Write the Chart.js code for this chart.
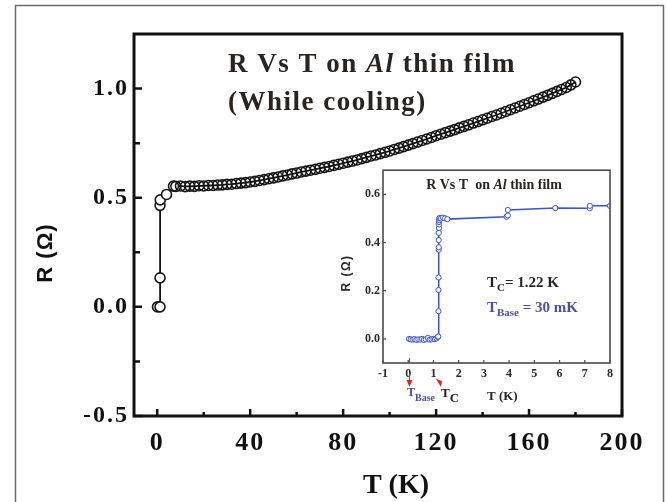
<!DOCTYPE html>
<html><head><meta charset="utf-8">
<script src="https://cdn.jsdelivr.net/npm/chart.js@4"></script>
<style>
html,body{margin:0;padding:0;background:#fff;}
#wrap{position:relative;width:667px;height:502px;overflow:hidden;}
#main{position:absolute;left:0;top:0;}
#inset{position:absolute;left:330px;top:160px;}
</style></head><body>
<div id="wrap"><canvas id="main" width="667" height="502"></canvas><canvas id="inset" width="290" height="250"></canvas></div>
<script>
// ---- main data (T in K, R in ohm) ----
const mainT = [0.1,1.2,1.2,1.2,1.3,4,7,8,10,12,14,16,18,20,22,24,26,28,30,32,34,36,38,40,42,44,46,48,50,52,54,56,58,60,62,64,66,68,70,72,74,76,78,80,82,84,86,88,90,92,94,96,98,100,102,104,106,108,110,112,114,116,118,120,122,124,126,128,130,132,134,136,138,140,142,144,146,148,150,152,154,156,158,160,162,164,166,168,170,172,174,176,178,180];
const mainR = [0,0,0.133,0.465,0.49,0.515,0.553,0.552,0.554,0.551,0.553,0.552,0.555,0.554,0.556,0.556,0.558,0.559,0.561,0.562,0.565,0.567,0.569,0.572,0.575,0.579,0.583,0.587,0.591,0.595,0.600,0.604,0.609,0.613,0.618,0.622,0.626,0.630,0.635,0.639,0.643,0.648,0.653,0.658,0.663,0.668,0.673,0.679,0.685,0.691,0.696,0.702,0.708,0.714,0.721,0.727,0.734,0.741,0.748,0.755,0.762,0.769,0.776,0.784,0.791,0.798,0.805,0.812,0.820,0.827,0.834,0.842,0.849,0.857,0.864,0.872,0.879,0.887,0.895,0.903,0.911,0.919,0.927,0.935,0.944,0.952,0.961,0.969,0.978,0.987,0.996,1.005,1.017,1.030];
const mainXTicks = [0,40,80,120,160,200];
const mainXMinor = [20,60,100,140,180];
const mainYTicks = [-0.5,0,0.5,1.0];
const mainYMinor = [-0.25,0.25,0.75];

// ---- inset data ----
const insetT = [0.03,0.1,0.18,0.25,0.32,0.4,0.48,0.55,0.62,0.7,0.78,0.85,0.92,1.0,1.06,1.12,1.17,1.19,1.2,1.2,1.2,1.21,1.21,1.21,1.21,1.22,1.22,1.22,1.23,1.23,1.25,1.3,1.38,1.46,1.55,3.9,3.95,3.95,5.83,7.2,7.2,8.0];
const insetR = [0.0,-0.002,-0.003,-0.001,-0.004,-0.002,-0.003,0.0,-0.004,-0.002,0.004,-0.003,-0.002,0.0,-0.001,0.002,0.008,0.01,0.115,0.203,0.255,0.37,0.38,0.41,0.44,0.46,0.475,0.485,0.492,0.5,0.502,0.5,0.503,0.5,0.497,0.507,0.512,0.535,0.543,0.542,0.552,0.552];
const insetXTicks = [-1,0,1,2,3,4,5,6,7,8];
const insetYTicks = [0,0.2,0.4,0.6];
const Tc = 1.22;
const Tbase = 0.03;

const SERIF = '"Liberation Serif","Times New Roman",serif';
const SANS = '"Liberation Sans",Arial,sans-serif';

function drawParts(c, x, y, parts, align){
  let w = 0;
  parts.forEach(p => { c.font = p.f; p.w = c.measureText(p.t).width; w += p.w; });
  let cx = align === 'center' ? x - w/2 : x;
  c.textAlign = 'left'; c.textBaseline = 'alphabetic';
  parts.forEach(p => { c.font = p.f; c.fillStyle = p.col; c.fillText(p.t, cx, y + (p.dy || 0)); cx += p.w; });
}

const mainDecor = {
  id: 'mainDecor',
  beforeDraw(chart){
    const c = chart.ctx;
    c.save(); c.fillStyle = '#fff'; c.fillRect(0,0,chart.width,chart.height); c.restore();
    c.letterSpacing = '2px';
  },
  afterDraw(chart){
    const c = chart.ctx, a = chart.chartArea, xs = chart.scales.x, ys = chart.scales.y;
    c.save();
    c.letterSpacing = '0px';
    c.strokeStyle = '#6b6b6b'; c.lineWidth = 1.5; c.strokeRect(15.5, 5.5, 648, 530);
    c.strokeStyle = '#111'; c.lineWidth = 3;
    c.strokeRect(a.left, a.top, a.right - a.left, a.bottom - a.top);
    c.lineWidth = 2.5; c.beginPath();
    mainXTicks.forEach(v => { const p = xs.getPixelForValue(v); c.moveTo(p, a.bottom); c.lineTo(p, a.bottom - 7); });
    mainXMinor.forEach(v => { const p = xs.getPixelForValue(v); c.moveTo(p, a.bottom); c.lineTo(p, a.bottom - 4); });
    mainYTicks.forEach(v => { const p = ys.getPixelForValue(v); c.moveTo(a.left, p); c.lineTo(a.left + 8, p); });
    mainYMinor.forEach(v => { const p = ys.getPixelForValue(v); c.moveTo(a.left, p); c.lineTo(a.left + 6, p); });
    c.stroke();
    // axis titles
    c.fillStyle = '#111';
    c.save();
    c.translate(46, 253); c.rotate(-Math.PI/2);
    c.letterSpacing = '1px';
    c.font = 'bold 22px ' + SANS; c.textAlign = 'center'; c.textBaseline = 'middle';
    c.fillText('R (\u03A9)', 0, 0);
    c.restore();
    c.font = 'bold 28px ' + SERIF; c.textAlign = 'center'; c.textBaseline = 'middle';
    c.fillText('T (K)', 396, 486);
    // title
    c.letterSpacing = '1.5px';
    const col = '#2a2420';
    drawParts(c, 228, 72, [
      {t:'R Vs T on ', f:'bold 27px ' + SERIF, col},
      {t:'Al', f:'italic bold 27px ' + SERIF, col},
      {t:' thin film', f:'bold 27px ' + SERIF, col}
    ], 'left');
    drawParts(c, 228, 110, [{t:'(While cooling)', f:'bold 27px ' + SERIF, col}], 'left');
    c.restore();
  }
};

const insetDecor = {
  id: 'insetDecor',
  beforeDraw(chart){
    const c = chart.ctx, a = chart.chartArea;
    c.save(); c.fillStyle = '#fff'; c.fillRect(a.left, a.top, a.right - a.left, a.bottom - a.top); c.restore();
  },
  afterDraw(chart){
    const c = chart.ctx, a = chart.chartArea, xs = chart.scales.x, ys = chart.scales.y;
    c.save();
    c.strokeStyle = '#4a4a4a'; c.lineWidth = 1.6;
    c.strokeRect(a.left, a.top, a.right - a.left, a.bottom - a.top);
    c.lineWidth = 1.2; c.beginPath();
    insetXTicks.forEach(v => { const p = xs.getPixelForValue(v); c.moveTo(p, a.bottom); c.lineTo(p, a.bottom - 3); });
    insetYTicks.forEach(v => { const p = ys.getPixelForValue(v); c.moveTo(a.left, p); c.lineTo(a.left + 3, p); });
    c.stroke();
    // y title
    c.save();
    c.translate(17, 113); c.rotate(-Math.PI/2);
    c.letterSpacing = '1.5px';
    c.font = 'bold 12px ' + SANS; c.fillStyle = '#2a2a2a'; c.textAlign = 'center'; c.textBaseline = 'middle';
    c.fillText('R (\u03A9)', 0, 0);
    c.restore();
    const dark = '#2a2420', blue = '#4b4fa8';
    drawParts(c, 164, 29, [
      {t:'R Vs T  on ', f:'bold 14px ' + SERIF, col:dark},
      {t:'Al', f:'italic bold 14px ' + SERIF, col:dark},
      {t:' thin film', f:'bold 14px ' + SERIF, col:dark}
    ], 'center');
    drawParts(c, 157, 127, [
      {t:'T', f:'bold 15px ' + SERIF, col:dark},
      {t:'C', f:'bold 11px ' + SERIF, col:dark, dy:4},
      {t:'= 1.22 K', f:'bold 15px ' + SERIF, col:dark}
    ], 'left');
    drawParts(c, 157, 152, [
      {t:'T', f:'bold 15px ' + SERIF, col:blue},
      {t:'Base', f:'bold 11px ' + SERIF, col:blue, dy:4},
      {t:' = 30 mK', f:'bold 15px ' + SERIF, col:blue}
    ], 'left');
    const pb = xs.getPixelForValue(Tbase), pc = xs.getPixelForValue(Tc);
    drawParts(c, pb - 2, 236, [
      {t:'T', f:'bold 12px ' + SERIF, col:blue},
      {t:'Base', f:'bold 10px ' + SERIF, col:blue, dy:5}
    ], 'left');
    drawParts(c, pc + 2, 237, [
      {t:'T', f:'bold 13px ' + SERIF, col:dark},
      {t:'C', f:'bold 13px ' + SERIF, col:dark, dy:5}
    ], 'left');
    drawParts(c, 157, 240, [{t:'T (K)', f:'bold 13px ' + SERIF, col:dark}], 'left');
    // red markers
    c.strokeStyle = '#e02424'; c.fillStyle = '#e02424'; c.lineWidth = 1;
    c.beginPath(); c.moveTo(pb + 0.5, a.bottom - 5); c.lineTo(pb + 0.5, a.bottom); c.stroke();
    c.beginPath(); c.moveTo(pb + 0.5, 214); c.lineTo(pb + 0.5, 221); c.stroke();
    c.beginPath(); c.moveTo(pb - 2.5, 220); c.lineTo(pb + 3.5, 220); c.lineTo(pb + 0.5, 227); c.closePath(); c.fill();
    c.beginPath(); c.moveTo(pc - 3, 219); c.lineTo(pc + 3, 221); c.lineTo(pc + 2, 227); c.closePath(); c.fill();
    c.restore();
  }
};

new Chart(document.getElementById('main'), {
  type: 'scatter',
  data: { datasets: [{
    data: mainT.map((t, i) => ({x: t, y: mainR[i]})),
    showLine: true,
    borderColor: '#111', borderWidth: 1.8,
    pointRadius: 5, pointBorderWidth: 1.6,
    pointBorderColor: '#161616',
    pointBackgroundColor: ctx => (ctx.dataIndex < 7 ? '#fff' : 'rgba(255,255,255,0)')
  }]},
  options: {
    responsive: false, animation: false,
    layout: { padding: { top: 34, right: 45, left: 0, bottom: 0 } },
    plugins: { legend: {display: false}, tooltip: {enabled: false} },
    scales: {
      x: {
        type: 'linear', min: -10, max: 200,
        afterBuildTicks: s => { s.ticks = mainXTicks.map(v => ({value: v})); },
        afterFit: s => { s.height = 86; },
        grid: {display: false, drawTicks: false}, border: {display: false},
        ticks: { autoSkip: false, maxRotation: 0, padding: 12, color: '#111',
          font: {family: SERIF, size: 26, weight: 'bold'}, callback: v => String(v) }
      },
      y: {
        type: 'linear', min: -0.5, max: 1.25,
        afterBuildTicks: s => { s.ticks = mainYTicks.map(v => ({value: v})); },
        afterFit: s => { s.width = 134; },
        grid: {display: false, drawTicks: false}, border: {display: false},
        ticks: { autoSkip: false, padding: 5, color: '#111',
          font: {family: SERIF, size: 24, weight: 'bold'}, callback: v => v.toFixed(1) }
      }
    }
  },
  plugins: [mainDecor]
});

new Chart(document.getElementById('inset'), {
  type: 'scatter',
  data: { datasets: [{
    data: insetT.map((t, i) => ({x: t, y: insetR[i]})),
    showLine: true,
    borderColor: 'rgb(62,84,196)', borderWidth: 1.5,
    pointRadius: 2.6, pointBorderWidth: 1,
    pointBorderColor: 'rgb(62,84,196)', pointBackgroundColor: '#fff'
  }]},
  options: {
    responsive: false, animation: false,
    layout: { padding: { top: 5, right: 10, left: 0, bottom: 0 } },
    plugins: { legend: {display: false}, tooltip: {enabled: false} },
    scales: {
      x: {
        type: 'linear', min: -1, max: 8,
        afterBuildTicks: s => { s.ticks = insetXTicks.map(v => ({value: v})); },
        afterFit: s => { s.height = 47; },
        grid: {display: false, drawTicks: false}, border: {display: false},
        ticks: { autoSkip: false, maxRotation: 0, padding: 4, color: '#2a2a2a',
          font: {family: SERIF, size: 12, weight: 'bold'}, callback: v => String(v) }
      },
      y: {
        type: 'linear', min: -0.1, max: 0.7,
        afterBuildTicks: s => { s.ticks = insetYTicks.map(v => ({value: v})); },
        afterFit: s => { s.width = 53; },
        grid: {display: false, drawTicks: false}, border: {display: false},
        ticks: { autoSkip: false, padding: 3, color: '#2a2a2a',
          font: {family: SERIF, size: 12, weight: 'bold'}, callback: v => v.toFixed(1) }
      }
    }
  },
  plugins: [insetDecor]
});
</script>
</body></html>
